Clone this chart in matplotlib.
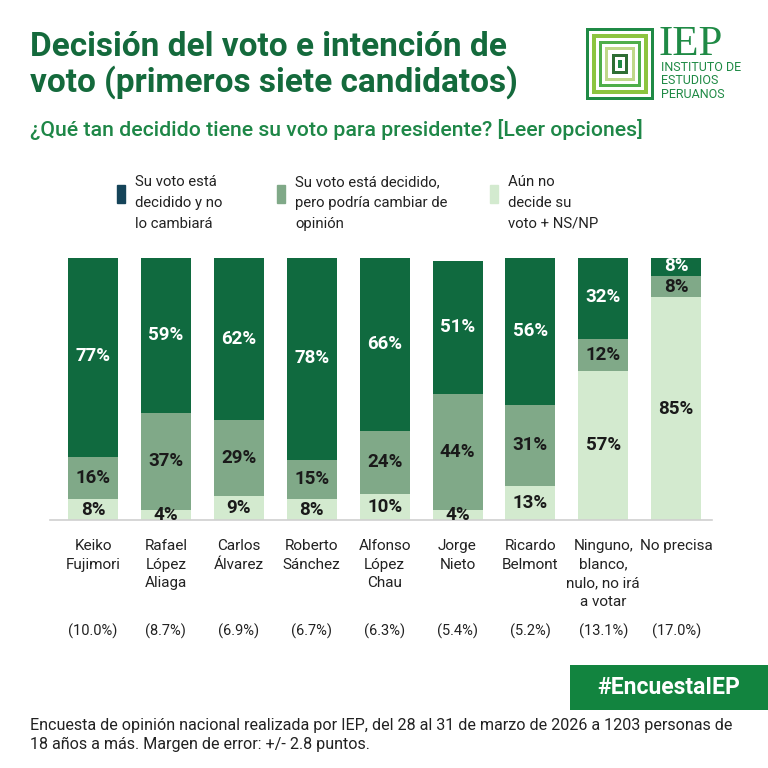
import numpy as np
import matplotlib.pyplot as plt
from matplotlib.patches import Rectangle

plt.rcParams['font.family'] = ['Roboto', 'DejaVu Sans']

candidatos = ["Keiko\nFujimori", "Rafael\nLópez\nAliaga", "Carlos\nÁlvarez", "Roberto\nSánchez",
              "Alfonso\nLópez\nChau", "Jorge\nNieto", "Ricardo\nBelmont",
              "Ninguno,\nblanco,\nnulo, no irá\na votar", "No precisa"]
intencion = ["(10.0%)", "(8.7%)", "(6.9%)", "(6.7%)", "(6.3%)", "(5.4%)", "(5.2%)", "(13.1%)", "(17.0%)"]
decidido = [77, 59, 62, 78, 66, 51, 56, 32, 8]
podria_cambiar = [16, 37, 29, 15, 24, 44, 31, 12, 8]
no_decide = [8, 4, 9, 8, 10, 4, 13, 57, 85]
leyenda = ["Su voto está\ndecidido y no\nlo cambiará",
           "Su voto está decidido,\npero podría cambiar de\nopinión",
           "Aún no\ndecide su\nvoto + NS/NP"]

c_dark = "#106a3f"
c_mid = "#80a988"
c_light = "#d3eacf"
c_title = "#146a3c"

W = 768
fig = plt.figure(figsize=(7.68, 7.68), dpi=100)

def px(x, y):
    return x / W, 1 - y / W

# bars
left, right, top, base = 50, 712, 258, 520
ax = fig.add_axes([left / W, 1 - base / W, (right - left) / W, (base - top) / W])
step = 72.9
x0 = 93
ax.set_xlim((left - x0) / step, (right - x0) / step)
ax.set_ylim(0, 100)
x = np.arange(len(candidatos))
bw = 50 / step
ld = np.array(no_decide)
pc = np.array(podria_cambiar)
dd = np.array(decidido)
ax.bar(x, ld, bw, color=c_light)
ax.bar(x, pc, bw, bottom=ld, color=c_mid)
ax.bar(x, dd, bw, bottom=ld + pc, color=c_dark)
for i in x:
    ax.text(i, ld[i] / 2, f"{ld[i]}%", ha="center", va="center", fontsize=13.5,
            fontweight="bold", color="#1a1a1a", clip_on=False)
    ax.text(i, ld[i] + pc[i] / 2, f"{pc[i]}%", ha="center", va="center", fontsize=13.5,
            fontweight="bold", color="#1a1a1a")
    ax.text(i, ld[i] + pc[i] + dd[i] / 2, f"{dd[i]}%", ha="center", va="center", fontsize=13.5,
            fontweight="bold", color="white")
for s in ax.spines.values():
    s.set_visible(False)
ax.axhline(0, color="#d0d0d0", lw=1.2, clip_on=False)
ax.set_yticks([])
ax.set_xticks([])

for i in x:
    cx = x0 + step * i
    fig.text(*px(cx, 539), candidatos[i], ha="center", va="top", fontsize=11,
             color="#222222", linespacing=1.42)
    fig.text(*px(cx, 631), intencion[i], ha="center", va="center", fontsize=10.5, color="#222222")

# title and subtitle
fig.text(*px(30, 65), "Decisión del voto e intención de\nvoto (primeros siete candidatos)",
         ha="left", va="center", fontsize=24, fontweight="bold", color=c_title, linespacing=1.1)
fig.text(*px(30, 130), "¿Qué tan decidido tiene su voto para presidente? [Leer opciones]",
         ha="left", va="center", fontsize=15.3, fontweight="medium", color="#1e8747")

# legend
for lx, col, txt in [(117, "#154459", leyenda[0]), (277, c_mid, leyenda[1]), (490, c_light, leyenda[2])]:
    fig.patches.append(Rectangle(px(lx, 203), 8 / W, 18 / W, transform=fig.transFigure,
                                 color=col))
    fig.text(*px(lx + 18, 203), txt, ha="left", va="center", fontsize=10.7,
             color="#222222", linespacing=1.62)

# logo
lx0, ly0, lw, lh = 586, 28, 68, 72
cols = ["#1f8a45", "white", "#8cc43f", "white", "#4fae4a", "white", "#c0d88a",
        "white", "#2e6e33", "white", "#1f8a45"]
for k, col in enumerate(cols):
    d = k * 3.2
    fig.patches.append(Rectangle(px(lx0 + d, ly0 + lh - d), (lw - 2 * d) / W, (lh - 2 * d) / W,
                                 transform=fig.transFigure, color=col, lw=0))
fig.text(*px(658, 45), "IEP", ha="left", va="center", fontsize=31, family="Liberation Serif",
         color="#1f8a45")
fig.text(*px(661, 81), "INSTITUTO DE\nESTUDIOS\nPERUANOS", ha="left", va="center", fontsize=9,
         color="#1f8a45", linespacing=1.05)

# hashtag box
fig.patches.append(Rectangle(px(570, 710), 198 / W, 45 / W, transform=fig.transFigure,
                             color="#12843f", lw=0))
fig.text(*px(669, 688), "#EncuestaIEP", ha="center", va="center", fontsize=16.5,
         fontweight="bold", color="white")

# footer
fig.text(*px(30, 735), "Encuesta de opinión nacional realizada por IEP, del 28 al 31 de marzo de 2026 a 1203 personas de\n"
         "18 años a más. Margen de error: +/- 2.8 puntos.", ha="left", va="center", fontsize=11.6,
         color="#222222", linespacing=1.25)

fig.savefig("out.png", dpi=100, facecolor="white")
